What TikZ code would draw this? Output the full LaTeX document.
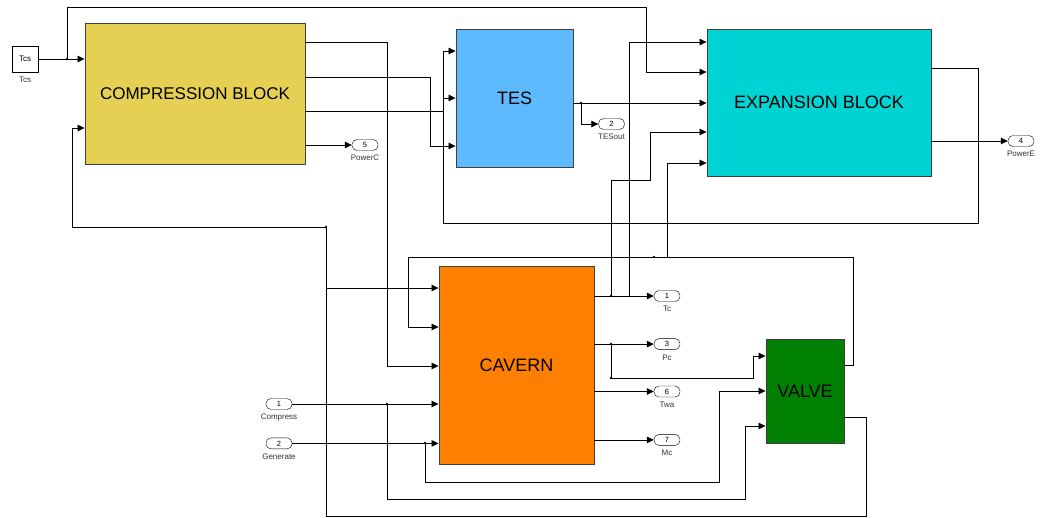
\documentclass[tikz,border=0pt]{standalone}
\usepackage{fontspec}
\setmainfont{Liberation Sans}
\usetikzlibrary{arrows.meta,positioning}
\definecolor{compfill}{HTML}{E6D054}
\definecolor{tesfill}{HTML}{5EBAFF}
\definecolor{expfill}{HTML}{00D3D3}
\definecolor{cavfill}{HTML}{FF8000}
\definecolor{valvefill}{HTML}{008000}

\begin{document}
\begin{tikzpicture}[x=1pt,y=-1pt,
  blk/.style={draw=black!75,line width=0.9pt,inner sep=0pt,
    font=\fontsize{18}{20}\selectfont},
  port/.style={draw,rounded corners=5pt,minimum width=26pt,minimum height=11pt,
    inner sep=0pt,font=\fontsize{7.5}{8}\selectfont},
  lbl/.style={font=\fontsize{8}{9}\selectfont,text=black!80,inner sep=1pt,
    yshift=-3.5pt},
  a/.style={-{Triangle[length=7pt,width=6.5pt]},line width=0.8pt}
]
\fill[white] (0,0) rectangle (1040,517);
\useasboundingbox (0,0) rectangle (1040,517);

% blocks
\node[draw,line width=0.6pt,minimum size=26pt,inner sep=0pt,
  font=\fontsize{8}{9}\selectfont,
  label={[lbl]below:Tcs}] (tcs) at (25,59) {Tcs};
\node[blk,fill=compfill,minimum width=220pt,minimum height=141pt,
  font=\fontsize{17}{20}\selectfont] (comp) at (195,93.5) {COMPRESSION BLOCK};
\node[blk,fill=tesfill,minimum width=117pt,minimum height=138pt] (tes)
  at (514.5,98) {TES};
\node[blk,fill=expfill,minimum width=224pt,minimum height=147pt] (exp)
  at (819,102.5) {EXPANSION BLOCK};
\node[blk,fill=cavfill,minimum width=155pt,minimum height=198pt] (cav)
  at (516.5,365) {CAVERN};
\node[blk,fill=valvefill,minimum width=78pt,minimum height=104pt] (valve)
  at (805,391) {VALVE};

% ports
\node[port,label={[lbl]below:PowerC}] (pwrC) at (365,145) {5};
\node[port,label={[lbl]below:TESout}] (tesout) at (611.5,124) {2};
\node[port,label={[lbl]below:PowerE}] (pwrE) at (1021,141) {4};
\node[port,label={[lbl]below:Tc}] (tc) at (667,296) {1};
\node[port,below=36.7pt of tc,label={[lbl]below:Pc}] (pc) {3};
\node[port,below=36pt of pc,label={[lbl]below:Twa}] (twa) {6};
\node[port,below=37pt of twa,label={[lbl]below:Mc}] (mc) {7};
\node[port,label={[lbl]below:Compress}] (compr) at (279,404) {1};
\node[port,below=28pt of compr,label={[lbl]below:Generate}] (gen) {2};

% branch points
\coordinate (jtcs) at (67,59);
\coordinate (jtes) at (581,103);
\coordinate (jtc) at (611,296);
\coordinate (jtc2) at (629,296);
\coordinate (jpc) at (611,344);
\coordinate (jpc2) at (611,378);
\coordinate (jvl) at (667,257);
\coordinate (jvd) at (654,257);
\coordinate (jfb) at (326,288);
\coordinate (jfb2) at (326,227);
\coordinate (jcmp) at (387,404);
\coordinate (jgen) at (425,443);

% wires
\draw[a] (tcs) -- (comp.west |- tcs);
\draw[a] (jtcs) |- (646,7) |- (exp.west |- 0,72);
\draw[a] (comp.east |- 0,42) -| (387,366) -- (cav.west |- 0,366);
\draw[a] (comp.east |- 0,77) -| (430,146) -- (tes.west |- 0,146);
\draw[a] (comp.east |- 0,111) -| (443,98) -- (tes.west |- 0,98);
\draw[a] (comp.east |- pwrC) -- (pwrC);
\draw[a] (tes.east |- jtes) -- (exp.west |- jtes);
\draw[a] (jtes) |- (tesout);
\draw[a] (exp.east |- 0,68) -| (978,223) -| (443,51) -- (tes.west |- 0,51);
\draw[a] (exp.east |- pwrE) -- (pwrE);
\draw[a] (cav.east |- tc) -- (tc);
\draw[a] (jtc) -- (611,180) -| (650,132) -- (exp.west |- 0,132);
\draw[a] (jtc2) |- (exp.west |- 0,42);
\draw[a] (cav.east |- pc) -- (pc);
\draw[a] (jpc) -- (jpc2) -| (753,356) -- (valve.west |- 0,356);
\draw[a] (cav.east |- twa) -- (twa);
\draw[a] (cav.east |- mc) -- (mc);
\draw[a] (valve.east |- 0,365) -| (853,257) -| (408,327) -- (cav.west |- 0,327);
\draw[a] (jvl) |- (exp.west |- 0,163);
\draw[a] (valve.east |- 0,417) -| (866,516) -| (jfb2) -| (72,128)
  -- (comp.west |- 0,128);
\draw[a] (jfb) -- (cav.west |- jfb);
\draw[a] (compr) -- (cav.west |- compr);
\draw[a] (jcmp) -- (387,499) -| (745,426) -- (valve.west |- 0,426);
\draw[a] (gen) -- (cav.west |- gen);
\draw[a] (jgen) -- (425,482) -| (719,391) -- (valve.west |- 0,391);

\foreach \j in {jtcs,jtes,jtc,jpc,jpc2,jvd,jfb2,jcmp,jgen}
  \fill (\j) circle (1.3pt);
\end{tikzpicture}
\end{document}
